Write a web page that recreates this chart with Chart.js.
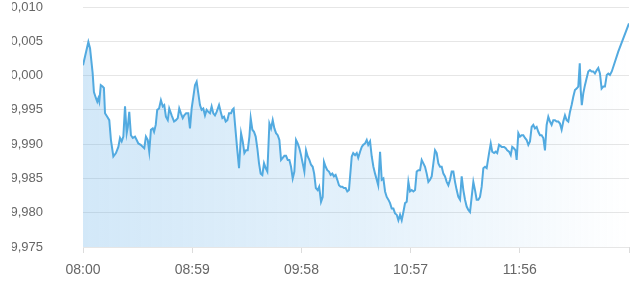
<!DOCTYPE html>
<html>
<head>
<meta charset="utf-8">
<script src="https://cdn.jsdelivr.net/npm/chart.js@4/dist/chart.umd.min.js"></script>
<style>
  html, body { margin: 0; padding: 0; background: #fff; }
  #wrap { position: absolute; left: 12px; top: 0; width: 628px; height: 285px; overflow: hidden; }
  #chart { position: absolute; left: -12px; top: 0; }
</style>
</head>
<body>
<div id="wrap"><canvas id="chart" width="640" height="285"></canvas></div>
<script>
// minutes after 08:00
const minutes = [
  0, 2.9, 3.8, 5.2, 5.9, 7.0, 7.7, 8.3, 8.8, 9.6,
  10.6, 11.3, 11.9, 13.1, 14.2, 15.1, 16.4, 17.8, 19.1, 20.0,
  20.9, 21.8, 22.7, 23.6, 24.2, 25.0, 25.9, 26.9, 28.1, 29.0,
  29.9, 31.2, 32.3, 33.1, 34.0, 35.0, 35.8, 36.7, 37.7, 38.4,
  39.3, 40.1, 41.1, 42.1, 43.1, 43.9, 44.8, 45.8, 46.6, 47.9,
  49.2, 50.2, 51.2, 52.0, 52.9, 53.9, 54.7, 55.7, 56.9, 57.8,
  58.7, 59.6, 60.5, 61.4, 62.3, 63.2, 64.1, 65.0, 65.9, 66.8,
  67.7, 68.6, 69.5, 70.4, 71.3, 72.2, 73.5, 74.6, 75.3, 76.2,
  77.1, 78.0, 78.9, 80.0, 80.7, 81.4, 82.1, 83.2, 84.3, 85.4,
  86.3, 87.2, 88.1, 89.0, 89.9, 90.6, 91.5, 92.4, 93.3, 94.2,
  95.1, 96.0, 96.9, 97.8, 98.7, 99.6, 100.1, 100.7, 101.6, 102.5,
  103.4, 104.3, 105.2, 106.1, 107.0, 107.9, 108.8, 109.7, 110.6, 111.5,
  112.4, 113.3, 114.2, 115.1, 116.0, 116.9, 117.8, 118.7, 119.6, 120.5,
  121.4, 122.3, 123.2, 124.1, 124.9, 125.8, 126.8, 127.6, 128.6, 129.5,
  130.2, 131.1, 132.0, 132.9, 133.8, 134.7, 135.6, 136.5, 137.4, 138.3,
  139.2, 140.1, 141.0, 141.9, 142.8, 143.7, 145.2, 146.0, 147.0, 147.9,
  148.7, 149.7, 150.6, 151.4, 152.4, 153.3, 154.1, 155.1, 156.0, 156.9,
  157.8, 158.7, 159.5, 160.5, 161.4, 162.3, 163.2, 164.1, 165.0, 165.9,
  166.8, 167.7, 168.6, 169.5, 170.4, 171.3, 172.2, 173.1, 174.0, 174.9,
  175.8, 176.7, 177.6, 178.5, 179.4, 180.3, 181.2, 182.1, 183.0, 183.9,
  184.8, 185.7, 186.6, 187.5, 188.4, 189.3, 190.2, 191.1, 192.0, 192.9,
  193.8, 194.7, 195.6, 196.5, 197.4, 198.3, 199.2, 200.1, 201.0, 201.9,
  202.8, 203.7, 204.6, 205.5, 206.4, 207.3, 208.2, 209.1, 210.0, 210.9,
  211.8, 212.7, 213.6, 214.5, 215.4, 216.3, 217.2, 218.1, 219.4, 220.3,
  221.1, 222.1, 223.0, 223.8, 224.8, 226.2, 227.5, 228.4, 229.2, 230.2,
  231.1, 231.9, 232.8, 233.7, 234.3, 235.2, 236.1, 237.0, 237.9, 238.8,
  239.7, 240.6, 241.5, 242.4, 243.3, 244.2, 245.1, 246.0, 246.9, 247.8,
  248.7, 249.6, 250.5, 251.4, 252.3, 253.2, 254.1, 255.0, 255.9, 256.8,
  257.7, 258.6, 259.5, 260.4, 261.3, 262.2, 263.1, 264.0, 264.9, 265.8,
  266.7, 267.6, 268.4, 268.9, 269.5, 270.3, 271.2, 272.1, 273.0, 273.9,
  274.8, 275.7, 276.6, 277.6, 278.4, 279.3, 280.2, 281.1, 282.0, 283.0,
  283.8, 284.7, 285.7, 289.2, 295
];

const prices = [
  10.0015, 10.0049, 10.0040, 10.0004, 9.9976, 9.9967, 9.9962, 9.9967, 9.9962, 9.9986,
  9.9984, 9.9982, 9.9945, 9.9940, 9.9935, 9.9906, 9.9882, 9.9887, 9.9896, 9.9909,
  9.9904, 9.9911, 9.9955, 9.9916, 9.9925, 9.9947, 9.9913, 9.9909, 9.9911, 9.9906,
  9.9901, 9.9899, 9.9896, 9.9894, 9.9911, 9.9906, 9.9889, 9.9921, 9.9923, 9.9918,
  9.9928, 9.9950, 9.9952, 9.9964, 9.9955, 9.9957, 9.9940, 9.9935, 9.9952, 9.9942,
  9.9933, 9.9935, 9.9938, 9.9952, 9.9945, 9.9938, 9.9942, 9.9945, 9.9945, 9.9923,
  9.9952, 9.9969, 9.9986, 9.9991, 9.9974, 9.9957, 9.9950, 9.9952, 9.9942, 9.9950,
  9.9947, 9.9945, 9.9955, 9.9945, 9.9942, 9.9947, 9.9957, 9.9945, 9.9938, 9.9940,
  9.9933, 9.9935, 9.9945, 9.9945, 9.9950, 9.9952, 9.9930, 9.9896, 9.9865, 9.9916,
  9.9904, 9.9887, 9.9891, 9.9891, 9.9911, 9.9938, 9.9921, 9.9918, 9.9911, 9.9894,
  9.9872, 9.9857, 9.9855, 9.9872, 9.9865, 9.9860, 9.9891, 9.9930, 9.9923, 9.9935,
  9.9923, 9.9916, 9.9913, 9.9906, 9.9877, 9.9880, 9.9883, 9.9883, 9.9877, 9.9877,
  9.9867, 9.9850, 9.9860, 9.9906, 9.9901, 9.9894, 9.9884, 9.9872, 9.9860, 9.9891,
  9.9882, 9.9877, 9.9870, 9.9867, 9.9857, 9.9836, 9.9833, 9.9838, 9.9816, 9.9823,
  9.9874, 9.9867, 9.9862, 9.9860, 9.9855, 9.9857, 9.9853, 9.9855, 9.9848, 9.9840,
  9.9838, 9.9838, 9.9836, 9.9836, 9.9831, 9.9833, 9.9882, 9.9887, 9.9884, 9.9887,
  9.9880, 9.9889, 9.9896, 9.9899, 9.9901, 9.9906, 9.9899, 9.9904, 9.9882, 9.9867,
  9.9857, 9.9848, 9.9840, 9.9889, 9.9848, 9.9850, 9.9831, 9.9823, 9.9819, 9.9814,
  9.9806, 9.9806, 9.9799, 9.9797, 9.9789, 9.9797, 9.9789, 9.9801, 9.9814, 9.9816,
  9.9845, 9.9831, 9.9833, 9.9831, 9.9833, 9.9860, 9.9862, 9.9862, 9.9877, 9.9872,
  9.9867, 9.9857, 9.9845, 9.9848, 9.9853, 9.9872, 9.9891, 9.9887, 9.9872, 9.9867,
  9.9867, 9.9857, 9.9853, 9.9845, 9.9840, 9.9848, 9.9860, 9.9860, 9.9845, 9.9833,
  9.9823, 9.9819, 9.9853, 9.9833, 9.9819, 9.9809, 9.9804, 9.9801, 9.9823, 9.9845,
  9.9833, 9.9819, 9.9819, 9.9823, 9.9838, 9.9865, 9.9867, 9.9865, 9.9887, 9.9901,
  9.9889, 9.9887, 9.9889, 9.9887, 9.9899, 9.9896, 9.9896, 9.9894, 9.9891, 9.9889,
  9.9884, 9.9896, 9.9894, 9.9891, 9.9877, 9.9916, 9.9911, 9.9913, 9.9913, 9.9909,
  9.9906, 9.9899, 9.9904, 9.9925, 9.9928, 9.9923, 9.9925, 9.9918, 9.9913, 9.9913,
  9.9909, 9.9891, 9.9928, 9.9940, 9.9933, 9.9928, 9.9935, 9.9935, 9.9933, 9.9933,
  9.9930, 9.9921, 9.9933, 9.9942, 9.9935, 9.9933, 9.9947, 9.9957, 9.9969, 9.9979,
  9.9981, 9.9984, 10.0018, 9.9979, 9.9957, 9.9974, 9.9986, 9.9996, 10.0006, 10.0008,
  10.0006, 10.0006, 10.0003, 10.0008, 10.0011, 10.0003, 9.9981, 9.9984, 9.9984, 10.0001,
  10.0003, 10.0001, 10.0006, 10.0035, 10.0076
];

// labels shown under the x axis (the last tick has none)
const tickLabels = ['08:00', '08:59', '09:58', '10:57', '11:56'];

const yMin = 9.975, yMax = 10.010, yStep = 0.005;
const xMax = 295, xStep = 59;

const points = minutes.map((m, i) => ({ x: m, y: prices[i] }));

function fillGradient(context) {
  const chart = context.chart;
  const area = chart.chartArea;
  if (!area) return 'rgba(90,170,230,0.25)';
  const g = chart.ctx.createLinearGradient(area.left, 0, area.right, 0);
  g.addColorStop(0, 'rgba(90,170,230,0.27)');
  g.addColorStop(0.5, 'rgba(90,170,230,0.17)');
  g.addColorStop(1, 'rgba(90,170,230,0)');
  return g;
}

new Chart(document.getElementById('chart'), {
  type: 'line',
  data: {
    datasets: [{
      data: points,
      borderColor: '#52aae0',
      borderWidth: 2,
      backgroundColor: fillGradient,
      fill: 'start',
      pointRadius: 0,
      tension: 0
    }]
  },
  options: {
    responsive: false,
    animation: false,
    layout: { padding: { top: 0, right: 11 } },
    plugins: { legend: { display: false }, tooltip: { enabled: false } },
    scales: {
      x: {
        type: 'linear',
        min: 0,
        max: xMax,
        border: { display: false },
        grid: { drawOnChartArea: false, drawTicks: true, tickLength: 6, color: '#dcdcdc' },
        ticks: {
          stepSize: xStep,
          autoSkip: false,
          maxRotation: 0,
          padding: 9,
          color: '#666',
          font: { family: 'Arial, "Liberation Sans", sans-serif', size: 14 },
          callback: (v, i) => tickLabels[i] ?? ''
        },
        afterFit: s => { s.height = 38; }
      },
      y: {
        min: yMin,
        max: yMax,
        border: { display: false },
        grid: { drawTicks: false, color: '#e6e6e6' },
        ticks: {
          stepSize: yStep,
          padding: 40,
          color: '#666',
          font: { family: 'Arial, "Liberation Sans", sans-serif', size: 13 },
          callback: v => v.toFixed(3).replace('.', ',')
        },
        afterFit: s => { s.width = 83; s.paddingTop = 7; s.paddingBottom = 7; }
      }
    }
  }
});
</script>
</body>
</html>
